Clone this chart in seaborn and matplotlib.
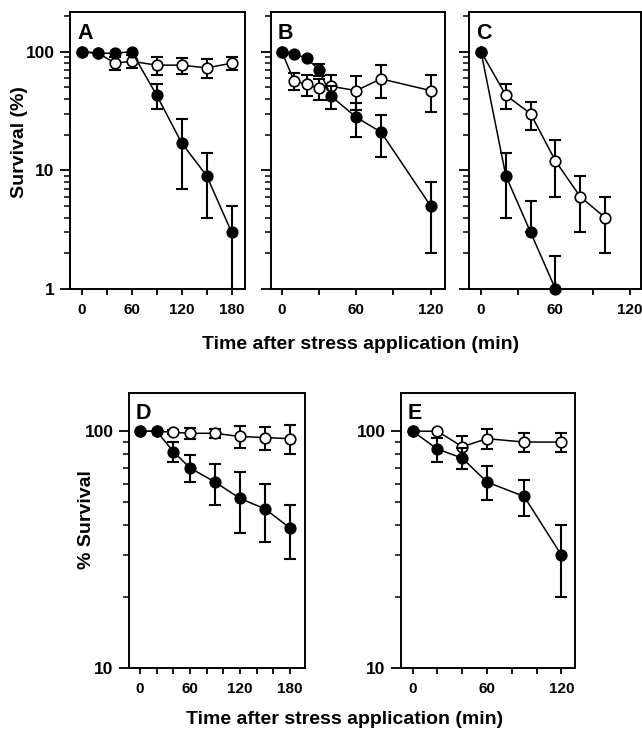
import matplotlib
matplotlib.use("Agg")
import matplotlib.pyplot as plt
import seaborn as sns
import numpy as np
import pandas as pd
from matplotlib.ticker import LogLocator, FixedLocator, NullFormatter, FixedFormatter

# ---- survival data (time in min, survival in %, error half-widths) ----
a_time = [0, 20, 40, 60, 90, 120, 150, 180]
a_mut = [100, 97, 97, 100, 43, 17, 9, 3]
a_mut_err = [0, 0, 0, 0, 10, 10, 5, 2]
a_wt = [100, 97, 80, 83, 77, 77, 73, 80]
a_wt_err = [0, 0, 10, 10, 14, 12, 13, 10]

b_time = [0, 10, 20, 30, 40, 60, 80, 120]
b_mut = [100, 95, 89, 70, 42, 28, 21, 5]
b_mut_err = [0, 0, 0, 8, 9, 9, 8, 3]
b_wt = [100, 57, 53, 49, 51, 47, 59, 47]
b_wt_err = [0, 9, 11, 10, 12, 15, 18, 16]

c_time_mut = [0, 20, 40, 60]
c_mut = [100, 9, 3, 1]
c_mut_err_lo = [0, 5, 0, 0]
c_mut_err_hi = [0, 5, 2.5, 0.9]
c_time_wt = [0, 20, 40, 60, 80, 100]
c_wt = [100, 43, 30, 12, 6, 4]
c_wt_err = [0, 10, 8, 6, 3, 2]

d_time = [0, 20, 40, 60, 90, 120, 150, 180]
d_mut = [100, 100, 82, 70, 61, 52, 47, 39]
d_mut_err = [0, 0, 8, 9, 12, 15, 13, 10]
d_wt = [100, 100, 99, 98, 98, 95, 94, 93]
d_wt_err = [0, 0, 2, 5, 4.5, 10, 10.5, 13]

e_time = [0, 20, 40, 60, 90, 120]
e_mut = [100, 84, 77, 61, 53, 30]
e_mut_err = [0, 10, 8, 10, 9, 10]
e_wt = [100, 100, 86, 93, 90, 90]
e_wt_err = [0, 0, 9, 9, 8, 8.5]

sns.set_theme(style="ticks")
plt.rcParams['font.family'] = ['Liberation Sans', 'DejaVu Sans']
plt.rcParams.update({
    'font.weight': 'bold',
    'text.color': 'black',
    'axes.edgecolor': 'black',
    'axes.labelcolor': 'black',
    'xtick.color': 'black',
    'ytick.color': 'black',
})

W, H = 642, 732
fig = plt.figure(figsize=(W / 100, H / 100), dpi=100)


def frame(l, t, r, b):
    return [l / W, 1 - b / H, (r - l) / W, (b - t) / H]


def series(ax, t, y, lo, hi, filled, z):
    df = pd.DataFrame({"time": t, "surv": y})
    sns.lineplot(data=df, x="time", y="surv", ax=ax, color="black", lw=1.1,
                 marker="o", markersize=7.6,
                 markerfacecolor="black" if filled else "white",
                 markeredgecolor="black", markeredgewidth=1.2,
                 errorbar=None, zorder=z + 1, clip_on=False)
    t = np.asarray(t, float)
    y = np.asarray(y, float)
    lo = np.asarray(lo, float)
    hi = np.asarray(hi, float)
    keep = (lo > 0) | (hi > 0)
    ax.errorbar(t[keep], y[keep], yerr=[lo[keep], hi[keep]], fmt="none",
                ecolor="black", elinewidth=1.5, capsize=4.5, capthick=1.5,
                zorder=z)


def style(ax, xlim, ylim, xstep, ylabels, letter):
    ax.set_yscale("log")
    ax.set_xlim(*xlim)
    ax.set_ylim(*ylim)
    ax.set_xlabel("")
    ax.set_ylabel("")
    ticks = np.arange(0, xlim[1], xstep)
    ax.xaxis.set_major_locator(FixedLocator(ticks))
    ax.xaxis.set_major_formatter(FixedFormatter(
        [str(int(v)) if int(v) % 60 == 0 else "" for v in ticks]))
    ax.yaxis.set_major_locator(FixedLocator([1, 10, 100]))
    ax.yaxis.set_minor_locator(LogLocator(base=10, subs=np.arange(2, 10)))
    ax.yaxis.set_minor_formatter(NullFormatter())
    if ylabels:
        ax.yaxis.set_major_formatter(FixedFormatter(["1", "10", "100"]))
    else:
        ax.yaxis.set_major_formatter(NullFormatter())
    ax.tick_params(axis="x", which="major", direction="out", length=4,
                   width=1.3, pad=6)
    ax.tick_params(axis="y", which="major", direction="out", length=7,
                   width=1.3, pad=4)
    ax.tick_params(axis="y", which="minor", direction="out", length=4,
                   width=1.1)
    for lab in ax.get_xticklabels():
        lab.set_fontfamily(['Liberation Sans Narrow', 'Liberation Sans'])
        lab.set_fontsize(11)
        lab.set_fontweight("bold")
    for lab in ax.get_yticklabels():
        lab.set_fontsize(12.5)
        lab.set_fontweight("bold")
    for sp in ax.spines.values():
        sp.set_visible(True)
        sp.set_linewidth(1.4)
        sp.set_color("black")
    ax.text(0.04, 0.962, letter, transform=ax.transAxes, fontsize=15.5,
            fontweight="bold", va="top", ha="left", color="black")


# top row
ax_a = fig.add_axes(frame(70, 12, 245, 289))
series(ax_a, a_time, a_wt, a_wt_err, a_wt_err, False, 2)
series(ax_a, a_time, a_mut, a_mut_err, a_mut_err, True, 4)
style(ax_a, (-14, 196), (1, 216), 30, True, "A")

ax_b = fig.add_axes(frame(271, 12, 445, 289))
series(ax_b, b_time, b_wt, b_wt_err, b_wt_err, False, 2)
series(ax_b, b_time, b_mut, b_mut_err, b_mut_err, True, 4)
style(ax_b, (-8.6, 131.5), (1, 216), 30, False, "B")

ax_c = fig.add_axes(frame(469, 12, 641, 289))
series(ax_c, c_time_wt, c_wt, c_wt_err, c_wt_err, False, 2)
series(ax_c, c_time_mut, c_mut, c_mut_err_lo, c_mut_err_hi, True, 4)
style(ax_c, (-9.7, 129), (1, 216), 30, False, "C")

# bottom row
ax_d = fig.add_axes(frame(129, 393, 305, 668))
series(ax_d, d_time, d_wt, d_wt_err, d_wt_err, False, 2)
series(ax_d, d_time, d_mut, d_mut_err, d_mut_err, True, 4)
style(ax_d, (-13.2, 198), (10, 145), 20, True, "D")

ax_e = fig.add_axes(frame(401, 393, 575, 668))
series(ax_e, e_time, e_wt, e_wt_err, e_wt_err, False, 2)
series(ax_e, e_time, e_mut, e_mut_err, e_mut_err, True, 4)
style(ax_e, (-9.4, 131), (10, 145), 20, True, "E")

# axis titles
fig.text(20 / W, 1 - 142 / H, "Survival (%)", rotation=90, fontsize=14,
         fontweight="bold", ha="center", va="center")
fig.text(87 / W, 1 - 520 / H, "% Survival", rotation=90, fontsize=14,
         fontweight="bold", ha="center", va="center")
fig.text(361 / W, 1 - 344 / H, "Time after stress application (min)",
         fontsize=14, fontweight="bold", ha="center", va="center")
fig.text(345 / W, 1 - 720 / H, "Time after stress application (min)",
         fontsize=14, fontweight="bold", ha="center", va="center")

fig.savefig("out.png", dpi=100, facecolor="white")
